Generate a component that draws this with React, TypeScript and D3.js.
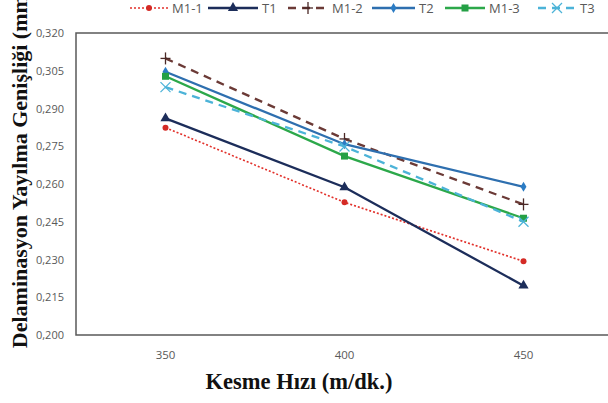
import React from "react";
import * as d3 from "d3";

// cutting speeds (m/dk.)
const speeds = ["350", "400", "450"];
const yTicks = [0.2, 0.215, 0.23, 0.245, 0.26, 0.275, 0.29, 0.305, 0.32];

const m11 = [0.2824, 0.2527, 0.2293];
const t1 = [0.2861, 0.2587, 0.2196];
const m12 = [0.3099, 0.2779, 0.2519];
const t2 = [0.3046, 0.2758, 0.2589];
const m13 = [0.3028, 0.2711, 0.2464];
const t3 = [0.2985, 0.2749, 0.245];

const seriesNames = ["M1-1", "T1", "M1-2", "T2", "M1-3", "T3"];

type Sty = { color: string; dash: string; width: number; marker: string; mcolor: string };
const styles: Sty[] = [
  { color: "#e2312b", dash: "2,2", width: 1.6, marker: "circle", mcolor: "#d42a25" },
  { color: "#1c2d5a", dash: "", width: 2.3, marker: "triangle", mcolor: "#1c2d5a" },
  { color: "#6b3a36", dash: "8,6", width: 2.3, marker: "plus", mcolor: "#4a2826" },
  { color: "#2e6faf", dash: "", width: 2.3, marker: "diamond", mcolor: "#2b7cc4" },
  { color: "#2ca84a", dash: "", width: 2.3, marker: "square", mcolor: "#24a045" },
  { color: "#4cb3d8", dash: "8,6", width: 2.3, marker: "cross", mcolor: "#4cb3d8" },
];

const allValues = [m11, t1, m12, t2, m13, t3];

function Marker({ type, x, y, color }: { type: string; x: number; y: number; color: string }) {
  if (type === "circle") return <circle cx={x} cy={y} r={3} fill={color} />;
  if (type === "triangle")
    return <path d={d3.symbol(d3.symbolTriangle, 45)() as string} transform={`translate(${x},${y})`} fill={color} />;
  if (type === "diamond")
    return <path d={d3.symbol(d3.symbolDiamond, 30)() as string} transform={`translate(${x},${y})`} fill={color} />;
  if (type === "square") return <rect x={x - 3.5} y={y - 3.5} width={7} height={7} fill={color} />;
  if (type === "plus")
    return (
      <g stroke={color} strokeWidth={1.3}>
        <line x1={x - 5} x2={x + 5} y1={y} y2={y} />
        <line x1={x} x2={x} y1={y - 6} y2={y + 6} />
      </g>
    );
  return (
    <g stroke={color} strokeWidth={1.3}>
      <line x1={x - 5} x2={x + 5} y1={y - 5} y2={y + 5} />
      <line x1={x - 5} x2={x + 5} y1={y + 5} y2={y - 5} />
    </g>
  );
}

export default function App() {
  const width = 608,
    height = 403;
  const left = 76,
    top = 33,
    bottom = 335;

  const x = d3.scaleBand().domain(speeds).range([left, left + 537]);
  const y = d3.scaleLinear().domain([0.2, 0.32]).range([bottom, top]);
  const cx = (s: string) => (x(s) as number) + x.bandwidth() / 2;

  const line = d3
    .line<number>()
    .x((d, i) => cx(speeds[i]))
    .y((d) => y(d));

  const fmt = (v: number) => v.toFixed(3).replace(".", ",");

  const legendX = [130, 208, 288, 372, 445, 538];
  const legendLen = [38, 50, 40, 43, 40, 38];

  return (
    <svg
      width={width}
      height={height}
      style={{ position: "absolute", left: 0, top: 0, background: "#fff" }}
      fontFamily="'Open Sans', sans-serif"
    >
      {/* plot box */}
      <rect x={left} y={top} width={537} height={bottom - top} fill="none" stroke="#595959" strokeWidth={1.5} />

      {/* y ticks */}
      {yTicks.map((t) => (
        <text key={t} x={64} y={y(t) + 4} textAnchor="end" fontSize={11} fill="#595959">
          {fmt(t)}
        </text>
      ))}

      {/* x ticks */}
      {speeds.map((s) => (
        <text key={s} x={cx(s)} y={359} textAnchor="middle" fontSize={11.5} fill="#595959">
          {s}
        </text>
      ))}

      {/* series */}
      {allValues.map((vals, k) => (
        <g key={seriesNames[k]}>
          <path
            d={line(vals) as string}
            fill="none"
            stroke={styles[k].color}
            strokeWidth={styles[k].width}
            strokeDasharray={styles[k].dash}
          />
          {vals.map((v, i) => (
            <Marker key={i} type={styles[k].marker} x={cx(speeds[i])} y={y(v)} color={styles[k].mcolor} />
          ))}
        </g>
      ))}

      {/* legend */}
      {seriesNames.map((n, k) => {
        const lx = legendX[k];
        const len = legendLen[k];
        return (
          <g key={n}>
            <line
              x1={lx}
              x2={lx + len}
              y1={8}
              y2={8}
              stroke={styles[k].color}
              strokeWidth={styles[k].width}
              strokeDasharray={styles[k].dash}
            />
            <Marker type={styles[k].marker} x={lx + len / 2} y={8} color={styles[k].mcolor} />
            <text x={lx + len + 4} y={12.5} fontSize={13} fill="#595959">
              {n}
            </text>
          </g>
        );
      })}

      {/* axis titles */}
      <text
        x={299}
        y={389}
        textAnchor="middle"
        fontFamily="'Liberation Serif', serif"
        fontWeight="bold"
        fontSize={22.5}
        fill="#111"
      >
        Kesme Hızı (m/dk.)
      </text>
      <text
        transform="translate(27,168) rotate(-90)"
        textAnchor="middle"
        fontFamily="'Liberation Serif', serif"
        fontWeight="bold"
        fontSize={22}
        fill="#111"
      >
        Delaminasyon Yayılma Genişliği (mm)
      </text>
    </svg>
  );
}
